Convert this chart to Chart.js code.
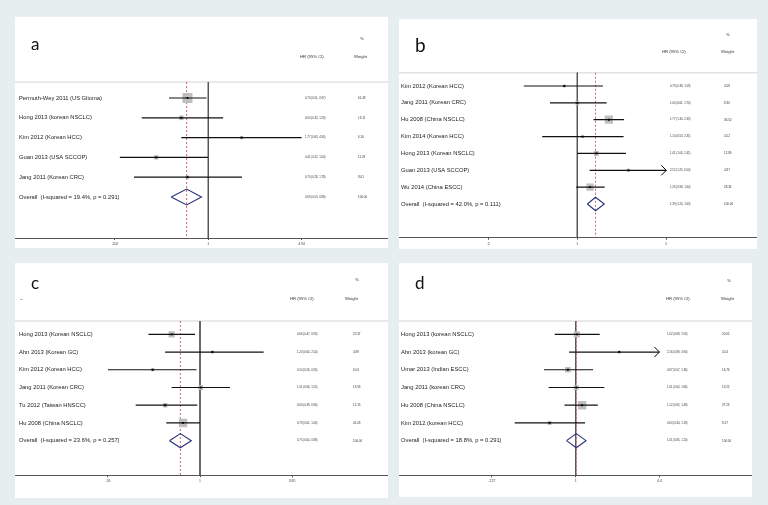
<!DOCTYPE html>
<html>
<head>
<meta charset="utf-8">
<script src="https://cdn.jsdelivr.net/npm/chart.js@4.4.0/dist/chart.umd.min.js"></script>
<style>
  body { margin: 0; width: 768px; height: 505px; background: #e6eef0; position: relative; overflow: hidden; }
  canvas { position: absolute; background: #ffffff; }
</style>
</head>
<body>
<canvas id="pa"></canvas>
<canvas id="pb"></canvas>
<canvas id="pc"></canvas>
<canvas id="pd"></canvas>
<script>
// ---- data ----
var panelLetters = ["a", "b", "c", "d"];
var iSquared = [19.4, 42.0, 23.6, 18.8];
var pHet = [0.291, 0.111, 0.257, 0.291];

// a
var studiesA = ["Permuth-Wey 2011 (US Glioma)", "Hong 2013 (korean NSCLC)", "Kim 2012 (Korean HCC)", "Guan 2013 (USA SCCOP)", "Jang 2011 (Korean CRC)"];
var hrA = [0.70, 0.63, 1.77, 0.41, 0.70];
var loA = [0.51, 0.32, 0.63, 0.22, 0.28];
var hiA = [0.97, 1.29, 4.94, 1.00, 1.78];
var weightA = [61.43, 13.11, 6.16, 11.29, 8.01];
var overallA = [0.69, 0.53, 0.89];
var ticksA = [0.202, 1, 4.94];
var tickLabelsA = [".202", "1", "4.94"];

// b
var studiesB = ["Kim 2012 (Korean HCC)", "Jang 2011 (Korean CRC)", "Hu 2008 (China NSCLC)", "Kim 2014 (Korean HCC)", "Hong 2013 (Korean NSCLC)", "Guan 2013 (USA SCCOP)", "Wu 2014 (China ESCC)"];
var hrB = [0.79, 1.00, 1.77, 1.10, 1.41, 2.52, 1.26];
var loB = [0.38, 0.61, 1.34, 0.53, 1.00, 1.25, 0.98];
var hiB = [1.59, 1.70, 2.33, 2.31, 2.41, 6.50, 1.64];
var weightB = [4.58, 8.30, 36.50, 4.52, 12.89, 4.87, 28.34];
var overallB = [1.39, 1.20, 1.63];
var ticksB = [0.2, 1, 5];
var tickLabelsB = [".2", "1", "5"];

// c
var studiesC = ["Hong 2013 (Korean NSCLC)", "Ahn 2013 (Korean GC)", "Kim 2012 (Korean HCC)", "Jang 2011 (Korean CRC)", "Tu 2012 (Taiwan HNSCC)", "Hu 2008 (China NSCLC)"];
var hrC = [0.66, 1.20, 0.50, 1.01, 0.60, 0.78];
var loC = [0.47, 0.60, 0.26, 0.66, 0.39, 0.61];
var hiC = [0.93, 2.54, 0.95, 1.55, 0.96, 1.00];
var weightC = [22.37, 4.89, 6.03, 13.53, 12.15, 41.03];
var overallC = [0.75, 0.64, 0.88];
var ticksC = [0.26, 1, 3.85];
var tickLabelsC = [".26", "1", "3.85"];

// d
var studiesD = ["Hong 2013 (korean NSCLC)", "Ahn 2013 (korean GC)", "Umar 2013 (Indian ESCC)", "Jang 2011 (korean CRC)", "Hu 2008 (China NSCLC)", "Kim 2012 (korean HCC)"];
var hrD = [1.02, 2.16, 0.87, 1.01, 1.12, 0.63];
var loD = [0.69, 0.89, 0.57, 0.62, 0.82, 0.34];
var hiD = [1.53, 4.90, 1.36, 1.66, 1.48, 1.18];
var weightD = [20.02, 4.54, 16.76, 13.22, 37.29, 8.17];
var overallD = [1.01, 0.85, 1.20];
var ticksD = [0.227, 1, 4.4];
var tickLabelsD = [".227", "1", "4.4"];

// ---- layout (page pixels) ----
var layoutA = { x: 15, y: 17, w: 373, h: 231, axisY: 238, one: 208.3, k: 58.4, row0: 98, gap: 19.8, sep: 82, side: 10,
  nameX: 19, ciX: 305, wX: 358, hdrX: 300, wHdrX: 354, pctX: 360, pctY: 39, hdrY: 57, letX: 31, letY: 50, letSize: 17 };
var layoutB = { x: 399, y: 19, w: 358, h: 230, axisY: 237.7, one: 577.3, k: 55.3, row0: 86, gap: 16.86, sep: 72.7, side: 8.2,
  nameX: 401, ciX: 670, wX: 724, hdrX: 662, wHdrX: 721, pctX: 726, pctY: 35, hdrY: 51.7, letX: 415, letY: 52, letSize: 19 };
var layoutC = { x: 15, y: 263, w: 373, h: 235, axisY: 475.3, one: 200, k: 68.3, row0: 334.3, gap: 17.73, sep: 321, side: 8.4,
  nameX: 19, ciX: 297, wX: 353, hdrX: 290, wHdrX: 345, pctX: 355, pctY: 280, hdrY: 298.7, letX: 31, letY: 289, letSize: 17, dash: true };
var layoutD = { x: 399, y: 263, w: 353, h: 234, axisY: 475.3, one: 575.7, k: 56.5, row0: 334.3, gap: 17.73, sep: 321, side: 8.4,
  nameX: 401, ciX: 667, wX: 722, hdrX: 666, wHdrX: 721, pctX: 727, pctY: 280.7, hdrY: 299.3, letX: 415, letY: 289, letSize: 17 };

function fmt(v) { return v.toFixed(2); }

function forest(id, idx, studies, hr, lo, hi, weight, overall, ticks, tickLabels, L) {
  var el = document.getElementById(id);
  el.width = L.w; el.height = L.h;
  el.style.left = L.x + "px"; el.style.top = L.y + "px";

  var n = studies.length;
  var areaH = L.axisY - L.y;
  var yMin = (L.y - L.row0) / L.gap;
  var yMax = (L.axisY - L.row0) / L.gap;
  var sepV = (L.sep - L.row0) / L.gap;
  var xMin = Math.exp(-(L.one - L.x) / L.k);
  var xMax = Math.exp((L.x + L.w - L.one) / L.k);
  var cap = ticks[ticks.length - 1];
  var maxW = Math.max.apply(null, weight);

  var line = function (pts, color, width, order, dash) {
    return { data: pts, showLine: true, pointRadius: 0, borderColor: color, borderWidth: width,
      borderDash: dash || [], order: order, fill: false };
  };

  var datasets = [];
  datasets.push(line([{ x: 1, y: sepV }, { x: 1, y: yMax }], "#555555", 1, 9));
  datasets.push(line([{ x: overall[0], y: sepV }, { x: overall[0], y: yMax }], "#cc6a66", 1, 8, [2, 2]));
  datasets.push({
    data: hr.map(function (v, i) { return { x: v, y: i }; }),
    showLine: false, pointStyle: "rect", backgroundColor: "#bfbfbf", borderWidth: 0, order: 7,
    pointRadius: function (ctx) { return L.side * Math.sqrt(weight[ctx.dataIndex] / maxW) / Math.SQRT2; }
  });
  for (var i = 0; i < n; i++) {
    datasets.push(line([{ x: lo[i], y: i }, { x: Math.min(hi[i], cap), y: i }], "#111111", 1.2, 5));
  }
  datasets.push({
    data: hr.map(function (v, i) { return { x: v, y: i }; }),
    showLine: false, pointStyle: "rect", pointRadius: 1.3, backgroundColor: "#000000", borderWidth: 0, order: 1
  });
  var r = n;
  datasets.push(line([{ x: overall[1], y: r }, { x: overall[0], y: r - 0.4 }, { x: overall[2], y: r },
    { x: overall[0], y: r + 0.4 }, { x: overall[1], y: r }], "#27307c", 1.1, 2));

  var textPlugin = {
    id: "forestText",
    beforeDatasetsDraw: function (c) {
      var ctx = c.ctx;
      var sy = c.scales.y.getPixelForValue(sepV);
      ctx.save();
      ctx.strokeStyle = "#e2e2e2";
      ctx.lineWidth = 1.5;
      ctx.beginPath(); ctx.moveTo(0, sy); ctx.lineTo(L.w, sy); ctx.stroke();
      ctx.restore();
    },
    afterDatasetsDraw: function (c) {
      var ctx = c.ctx, xs = c.scales.x, ys = c.scales.y;
      ctx.save();
      // arrows for intervals beyond the axis
      ctx.strokeStyle = "#000"; ctx.lineWidth = 1;
      for (var i = 0; i < n; i++) {
        if (hi[i] > cap) {
          var px = xs.getPixelForValue(cap), py = ys.getPixelForValue(i);
          ctx.beginPath();
          ctx.moveTo(px - 5, py - 5); ctx.lineTo(px, py); ctx.lineTo(px - 5, py + 5);
          ctx.stroke();
        }
      }
      ctx.fillStyle = "#111";
      ctx.textBaseline = "alphabetic";
      ctx.font = L.letSize + "px Lato, 'Open Sans', sans-serif";
      ctx.fillText(panelLetters[idx], L.letX - L.x, L.letY - L.y);
      ctx.textBaseline = "middle";
      ctx.font = "4.2px 'Liberation Sans', Arial, sans-serif";
      ctx.fillStyle = "#333";
      ctx.fillText("%", L.pctX - L.x, L.pctY - L.y);
      ctx.fillText("HR (95% CI)", L.hdrX - L.x, L.hdrY - L.y);
      ctx.fillText("Weight", L.wHdrX - L.x, L.hdrY - L.y);
      if (L.dash) ctx.fillText("--", L.nameX - L.x + 1, L.hdrY - L.y);
      for (var j = 0; j <= n; j++) {
        var yy = ys.getPixelForValue(j);
        var name, ci, w;
        if (j < n) {
          name = studies[j];
          ci = fmt(hr[j]) + " (" + fmt(lo[j]) + ", " + fmt(hi[j]) + ")";
          w = fmt(weight[j]);
        } else {
          name = "Overall  (I-squared = " + iSquared[idx].toFixed(1) + "%, p = " + pHet[idx].toFixed(3) + ")";
          ci = fmt(overall[0]) + " (" + fmt(overall[1]) + ", " + fmt(overall[2]) + ")";
          w = "100.00";
        }
        ctx.font = "2.8px 'Liberation Sans', Arial, sans-serif";
        ctx.fillStyle = "#333";
        ctx.fillText(ci, L.ciX - L.x, yy);
        ctx.font = "3px 'Liberation Sans', Arial, sans-serif";
        ctx.fillText(w, L.wX - L.x, yy);
        ctx.font = "5.8px 'Liberation Sans', Arial, sans-serif";
        ctx.fillStyle = "#222";
        ctx.fillText(name, L.nameX - L.x, yy);
      }
      ctx.restore();
    }
  };

  return new Chart(el, {
    type: "scatter",
    data: { datasets: datasets },
    options: {
      responsive: false,
      animation: false,
      events: [],
      devicePixelRatio: 1,
      layout: { padding: 0, autoPadding: false },
      plugins: { legend: { display: false }, tooltip: { enabled: false } },
      scales: {
        x: {
          type: "logarithmic",
          min: xMin, max: xMax, bounds: "data",
          afterBuildTicks: function (s) { s.ticks = ticks.map(function (v) { return { value: v }; }); },
          afterFit: function (s) { s.height = L.h - areaH; },
          ticks: {
            autoSkip: false, maxRotation: 0, padding: 2, color: "#444",
            font: { size: 3.5, family: "'Liberation Sans', Arial, sans-serif" },
            callback: function (v, i) { return tickLabels[i]; }
          },
          grid: { drawOnChartArea: false, tickLength: 2, color: "#555" },
          border: { color: "#555", width: 1 }
        },
        y: { type: "linear", reverse: true, min: yMin, max: yMax, display: false }
      }
    },
    plugins: [textPlugin]
  });
}

forest("pa", 0, studiesA, hrA, loA, hiA, weightA, overallA, ticksA, tickLabelsA, layoutA);
forest("pb", 1, studiesB, hrB, loB, hiB, weightB, overallB, ticksB, tickLabelsB, layoutB);
forest("pc", 2, studiesC, hrC, loC, hiC, weightC, overallC, ticksC, tickLabelsC, layoutC);
forest("pd", 3, studiesD, hrD, loD, hiD, weightD, overallD, ticksD, tickLabelsD, layoutD);
</script>
</body>
</html>
